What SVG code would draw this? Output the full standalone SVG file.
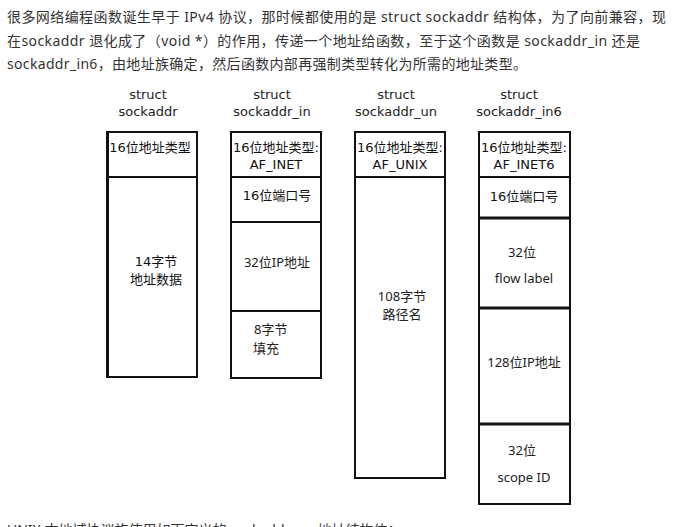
<svg xmlns="http://www.w3.org/2000/svg" width="680" height="527" viewBox="0 0 680 527">
<style>
.p{font-family:"Noto Sans","Noto Sans CJK SC",sans-serif;font-size:14px;fill:#333}
.h{font-family:"DejaVu Sans","Noto Sans CJK SC",sans-serif;font-size:13px;fill:#222;text-anchor:middle}
.l{font-family:"DejaVu Sans","Noto Sans CJK SC",sans-serif;font-size:13px;fill:#111;text-anchor:middle}
.m{font-family:"Noto Sans","Noto Sans CJK SC",sans-serif;font-size:13px;fill:#222;text-anchor:middle}
.box{fill:#fff;stroke:#111;stroke-width:2}
.div{stroke:#111;stroke-width:2;fill:none}
.thick{stroke:#111;stroke-width:3;fill:none}
</style>
<rect width="680" height="527" fill="#fff"/>
<text class="p" x="7" y="22" textLength="659" lengthAdjust="spacing">很多网络编程函数诞生早于 IPv4 协议，那时候都使用的是 struct sockaddr 结构体，为了向前兼容，现</text>
<text class="p" x="7" y="46" textLength="633" lengthAdjust="spacing">在sockaddr 退化成了（void *）的作用，传递一个地址给函数，至于这个函数是 sockaddr_in 还是</text>
<text class="p" x="7" y="69" textLength="520" lengthAdjust="spacing">sockaddr_in6，由地址族确定，然后函数内部再强制类型转化为所需的地址类型。</text>

<g id="sockaddr">
<text class="h" x="148" y="99">struct</text>
<text class="h" x="148" y="116">sockaddr</text>
<rect class="box" x="107" y="132" width="90" height="245"/>
<line class="thick" x1="107.5" y1="131" x2="107.5" y2="378"/>
<line class="div" x1="107" y1="177" x2="197" y2="177"/>
<text class="l" x="150" y="152">16位地址类型</text>
<text class="l" x="156" y="266">14字节</text>
<text class="l" x="156" y="284">地址数据</text>
</g>

<g id="sockaddr_in">
<text class="h" x="272" y="99">struct</text>
<text class="h" x="272" y="116">sockaddr_in</text>
<rect class="box" x="231" y="132" width="90" height="246"/>
<line class="div" x1="231" y1="177" x2="321" y2="177"/>
<line class="div" x1="231" y1="222" x2="321" y2="222"/>
<line class="div" x1="231" y1="311" x2="321" y2="311"/>
<text class="l" x="276" y="152">16位地址类型:</text>
<text class="l" x="276" y="169">AF_INET</text>
<text class="l" x="277" y="200">16位端口号</text>
<text class="m" x="277" y="267">32位IP地址</text>
<text class="m" x="254" y="334" style="text-anchor:start">8字节</text>
<text class="m" x="253" y="353" style="text-anchor:start">填充</text>
</g>

<g id="sockaddr_un">
<text class="h" x="396" y="99">struct</text>
<text class="h" x="396" y="116">sockaddr_un</text>
<rect class="box" x="355" y="132" width="90" height="346"/>
<line class="div" x1="355" y1="177" x2="445" y2="177"/>
<text class="l" x="400" y="152">16位地址类型:</text>
<text class="l" x="400" y="169">AF_UNIX</text>
<text class="m" x="402" y="301">108字节</text>
<text class="m" x="402" y="319">路径名</text>
</g>

<g id="sockaddr_in6">
<text class="h" x="519" y="99">struct</text>
<text class="h" x="519" y="116">sockaddr_in6</text>
<rect class="box" x="479" y="132" width="91" height="372"/>
<line class="div" x1="479" y1="177" x2="570" y2="177"/>
<line class="thick" x1="479" y1="218" x2="570" y2="218"/>
<line class="thick" x1="479" y1="308" x2="570" y2="308"/>
<line class="thick" x1="479" y1="424" x2="570" y2="424"/>
<text class="l" x="524" y="152">16位地址类型:</text>
<text class="l" x="524" y="169">AF_INET6</text>
<text class="l" x="524" y="201">16位端口号</text>
<text class="m" x="522" y="257">32位</text>
<text class="m" x="524" y="283">flow label</text>
<text class="m" x="524" y="367">128位IP地址</text>
<text class="m" x="522" y="455">32位</text>
<text class="m" x="524" y="482">scope ID</text>
</g>

<text class="p" x="7" y="535">UNIX 本地域协议族使用如下定义的 sockaddr_un 地址结构体：</text>
</svg>
